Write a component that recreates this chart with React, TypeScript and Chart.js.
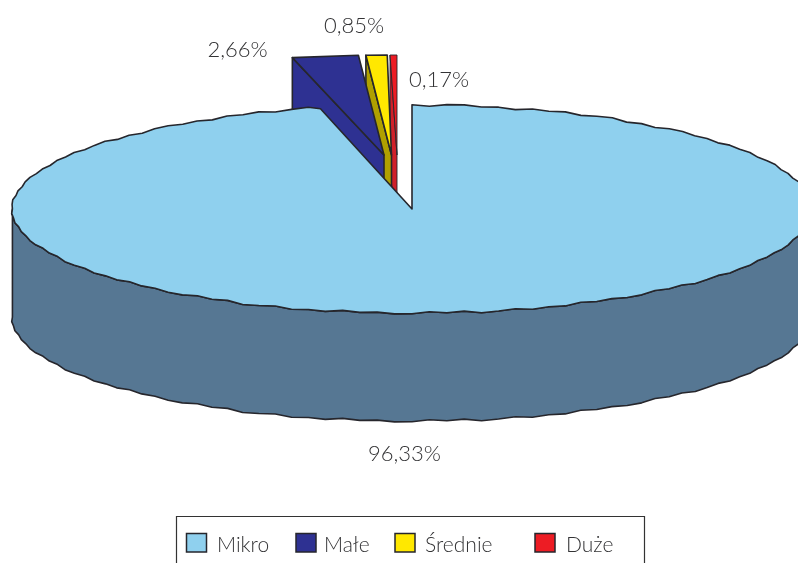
import React, { useEffect, useRef } from "react";
import { Chart, registerables } from "chart.js";

Chart.register(...registerables);

const categories = ["Mikro", "Małe", "Średnie", "Duże"];
const shares = [96.33, 2.66, 0.85, 0.17];
const faceColors = ["#8fd0ee", "#2e3192", "#ffe800", "#ed1c24"];
const wallColors = ["#567793", "#2e3192", "#b0a000", "#d0202a"];

// Layout of the tilted pie
const CX = 412, CY = 209, RX = 400, RY = 104, DEPTH = 108, RY_EXPLODED = 100;
const explodeX = [0, -28, -20.5, -15];
const explodeY = [0, -54, -54, -54];
const sliceRX = [400, 400, 400, 650];
const sliceStroke = [1.6, 1.6, 1.6, 0.9];
const valueLabelPos = [[404.5, 461], [237.5, 57], [354, 33], [439, 87]];
const legendSwatchX = [186.5, 296, 395, 535];
const legendTextX = [217, 324, 425, 566];

// Rough, hand-traced look of the rim (pixels, repeated round the ellipse)
const rimWobble = [0, 1.1, -0.7, 0.5, 1.3, -1, 0.2, -1.2, 0.8, 1, -0.5, 0.3, -1.1, 0.9];
const RIM_STEP = (2.5 * Math.PI) / 180;

const EDGE = "#26262c";
const FONT = "300 22px Lato";
const LEGEND_FONT = "300 21px Lato";

const fmt = (v: number) => v.toFixed(2).replace(".", ",") + "%";

function traceRim(ctx: any, ox: number, oy: number, ry: number, from: number, to: number, start: boolean) {
  const dir = to >= from ? 1 : -1;
  const at = (t: number) => {
    const k = Math.round(t / RIM_STEP);
    const w = rimWobble[((k % rimWobble.length) + rimWobble.length) % rimWobble.length];
    return [ox + (RX + w * 0.6) * Math.cos(t), oy + (ry + w) * Math.sin(t)];
  };
  const first = at(from);
  if (start) ctx.moveTo(first[0], first[1]);
  else ctx.lineTo(first[0], first[1]);
  let k = Math.floor(from / RIM_STEP) + (dir > 0 ? 1 : 0);
  for (; dir > 0 ? k * RIM_STEP < to : k * RIM_STEP > to; k += dir) {
    const p = at(k * RIM_STEP);
    ctx.lineTo(p[0], p[1]);
  }
  const last = at(to);
  ctx.lineTo(last[0], last[1]);
}

const pie3d = {
  id: "pie3d",
  beforeDatasetsDraw(chart: any) {
    const { ctx } = chart;
    const arcs = chart.getDatasetMeta(0).data;
    ctx.save();
    ctx.strokeStyle = EDGE;
    ctx.lineJoin = "round";

    // exploded slices, from the back to the front
    for (let i = arcs.length - 1; i >= 1; i--) {
      const a = arcs[i];
      const ox = CX + explodeX[i];
      const oy = CY + explodeY[i];
      const lx = ox + sliceRX[i] * Math.cos(a.startAngle);
      const ly = oy + RY_EXPLODED * Math.sin(a.startAngle);
      const rx = ox + sliceRX[i] * Math.cos(a.endAngle);
      const ry = oy + RY_EXPLODED * Math.sin(a.endAngle);
      ctx.lineWidth = sliceStroke[i];
      ctx.beginPath();
      ctx.moveTo(lx, ly);
      ctx.lineTo(lx, ly + DEPTH);
      ctx.lineTo(ox, oy + DEPTH);
      ctx.lineTo(ox, oy);
      ctx.closePath();
      ctx.fillStyle = wallColors[i];
      ctx.fill();
      ctx.stroke();

      ctx.beginPath();
      ctx.moveTo(ox, oy);
      ctx.lineTo(lx, ly);
      ctx.lineTo(rx, ry);
      ctx.closePath();
      ctx.fillStyle = faceColors[i];
      ctx.fill();
      ctx.stroke();
    }

    // main slice: wall, then top face
    const main = arcs[0];
    ctx.lineWidth = sliceStroke[0];
    ctx.beginPath();
    traceRim(ctx, CX, CY + DEPTH, RY, Math.PI, 0, true);
    traceRim(ctx, CX, CY, RY, 0, Math.PI, false);
    ctx.closePath();
    ctx.fillStyle = wallColors[0];
    ctx.fill();
    ctx.stroke();

    ctx.beginPath();
    ctx.moveTo(CX, CY);
    traceRim(ctx, CX, CY, RY, main.startAngle, main.endAngle, false);
    ctx.closePath();
    ctx.fillStyle = faceColors[0];
    ctx.fill();
    ctx.stroke();
    ctx.restore();
    return false;
  },
  afterDraw(chart: any) {
    const { ctx } = chart;
    const values = chart.data.datasets[0].data;
    ctx.save();
    ctx.font = FONT;
    ctx.fillStyle = "#333335";
    ctx.textBaseline = "alphabetic";
    ctx.textAlign = "center";
    values.forEach((v: number, i: number) => {
      ctx.fillText(fmt(v), valueLabelPos[i][0], valueLabelPos[i][1]);
    });

    // legend frame, cut by the lower edge of the picture
    ctx.strokeStyle = "#333";
    ctx.lineWidth = 1.2;
    ctx.beginPath();
    ctx.moveTo(176.5, 563);
    ctx.lineTo(176.5, 516.5);
    ctx.lineTo(644.5, 516.5);
    ctx.lineTo(644.5, 563);
    ctx.stroke();

    ctx.font = LEGEND_FONT;
    ctx.textAlign = "left";
    chart.data.labels.forEach((label: string, i: number) => {
      ctx.fillStyle = faceColors[i];
      ctx.strokeStyle = "#26262c";
      ctx.lineWidth = 1.5;
      ctx.fillRect(legendSwatchX[i], 533.5, 20, 18.5);
      ctx.strokeRect(legendSwatchX[i], 533.5, 20, 18.5);
      ctx.fillStyle = "#333335";
      ctx.fillText(label, legendTextX[i], 552);
    });
    ctx.restore();
  },
};

export default function App() {
  const ref = useRef<HTMLCanvasElement>(null);
  useEffect(() => {
    const chart = new Chart(ref.current!, {
      type: "pie",
      data: {
        labels: categories,
        datasets: [{ data: shares, backgroundColor: faceColors, borderColor: EDGE, borderWidth: 1.5 }],
      },
      options: {
        responsive: false,
        animation: false,
        events: [],
        plugins: { legend: { display: false }, tooltip: { enabled: false } },
      },
      plugins: [pie3d],
    });
    return () => chart.destroy();
  }, []);
  return (
    <div style={{ position: "fixed", left: 0, top: 0, width: 798, height: 563, overflow: "hidden", background: "#fff" }}>
      <canvas ref={ref} width={798} height={563} style={{ display: "block" }} />
    </div>
  );
}
